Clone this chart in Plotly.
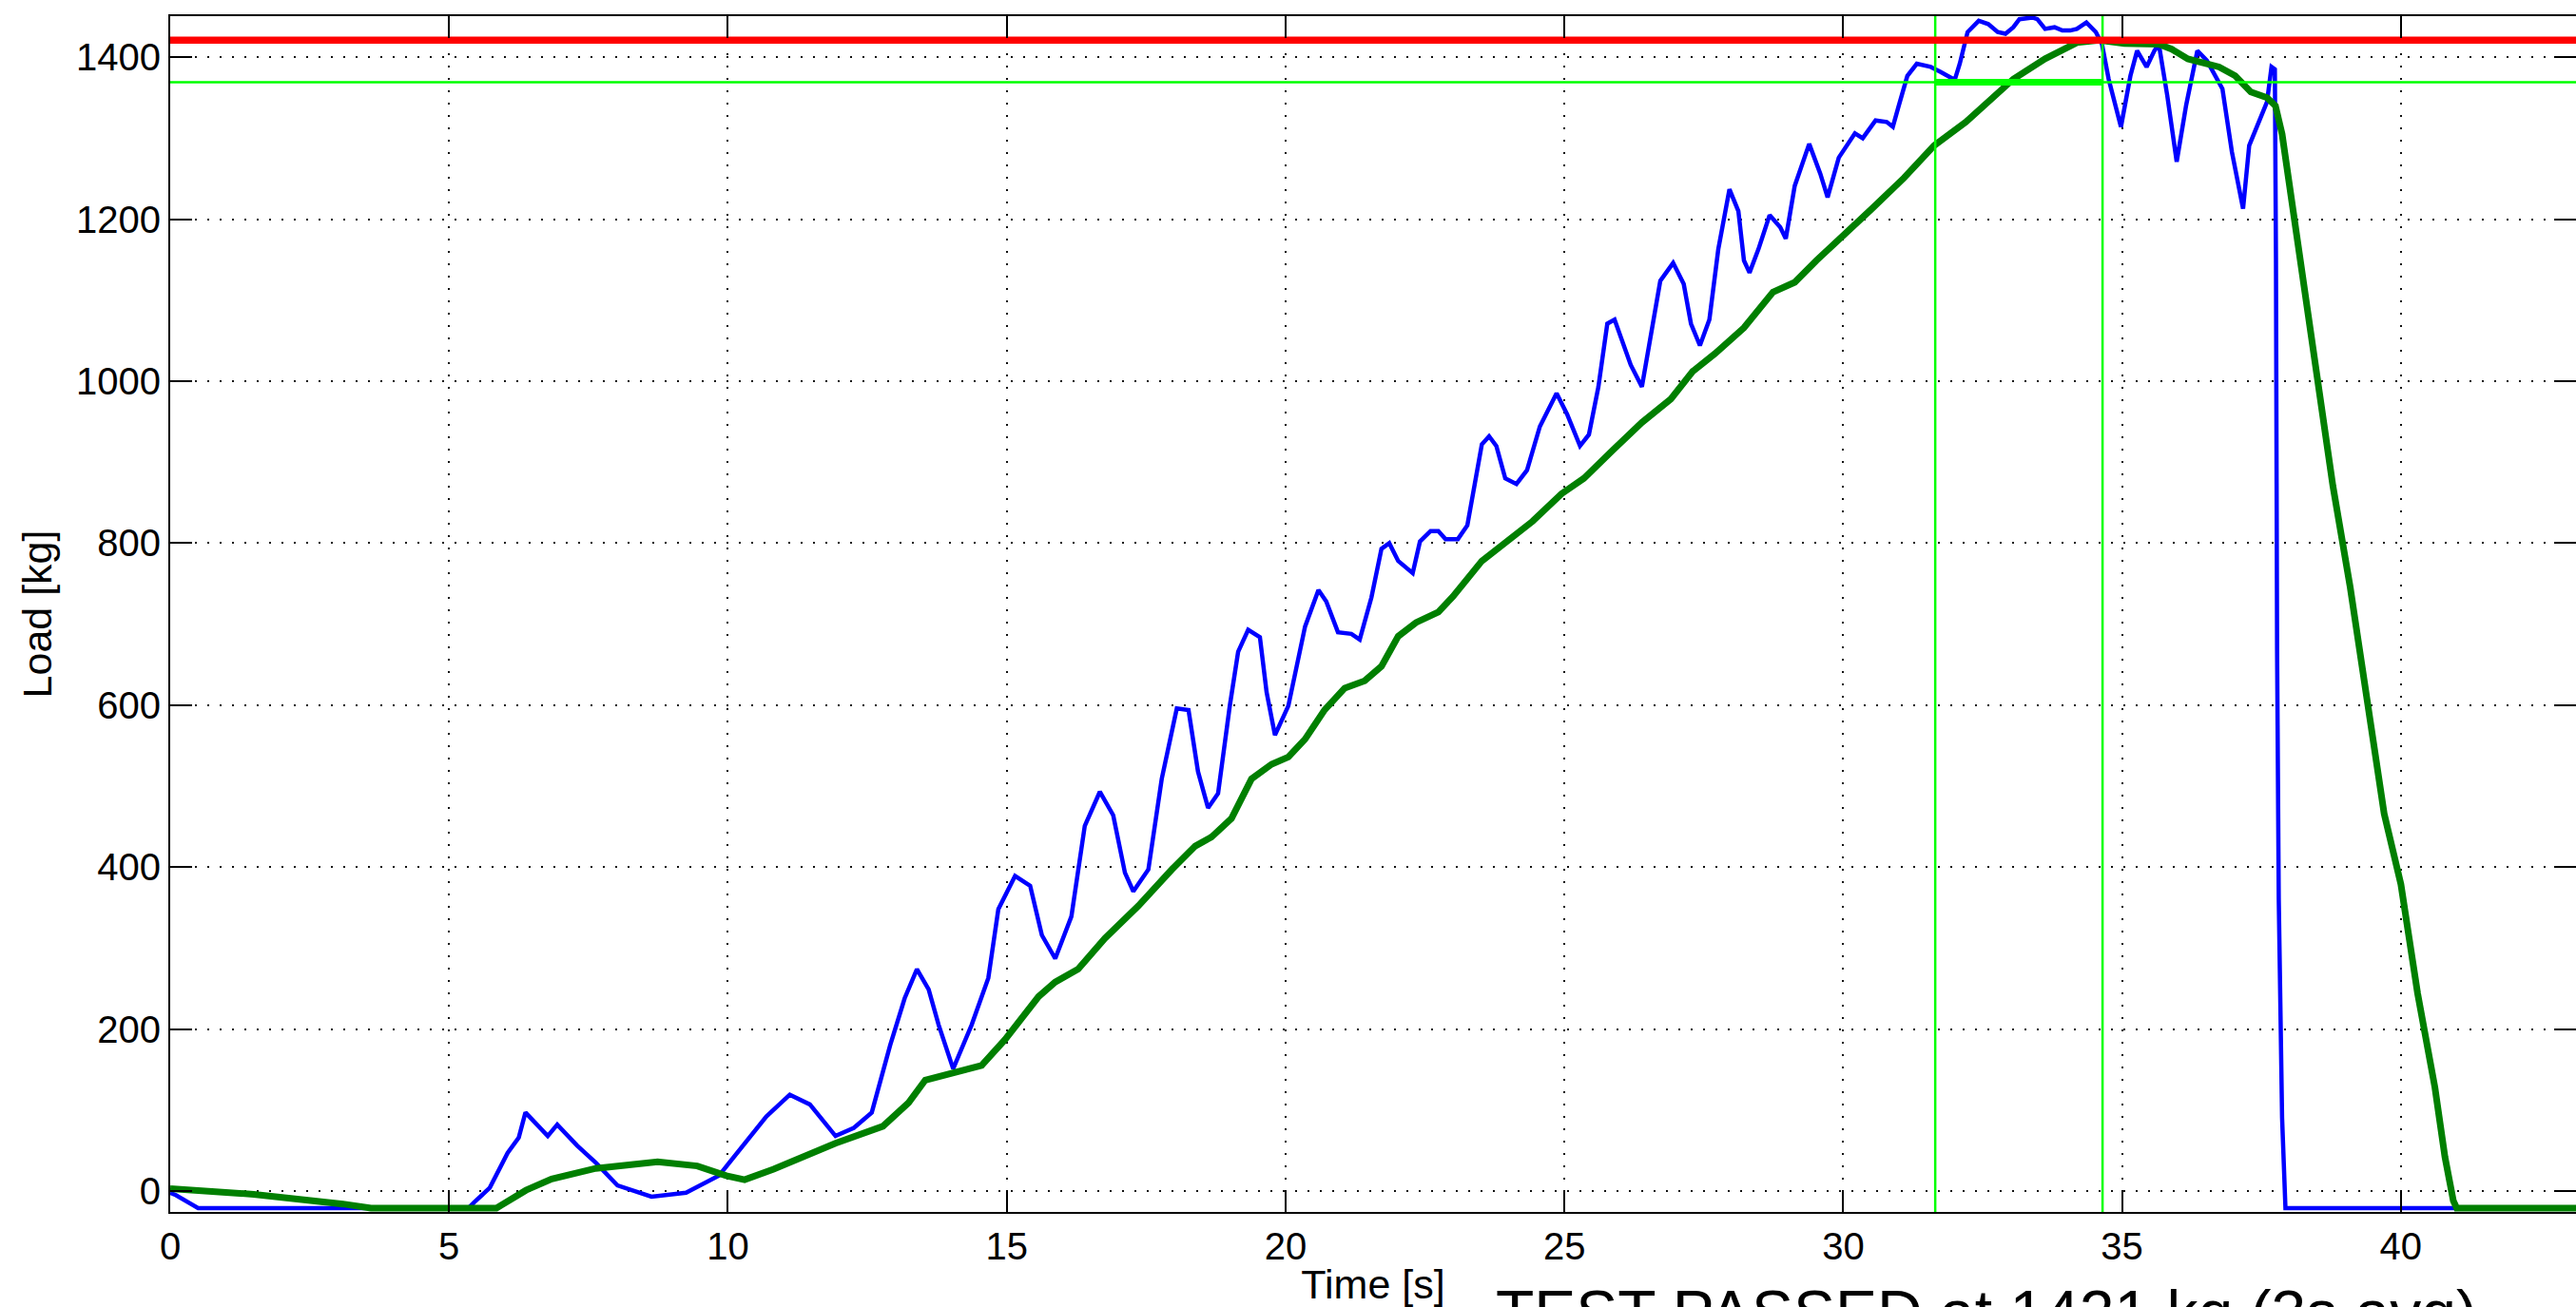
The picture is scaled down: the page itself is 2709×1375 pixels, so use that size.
import plotly.graph_objects as go

# ---- data ----
raw_t = [0.0, 0.1, 0.5, 5.35, 5.45, 5.73, 6.05, 6.25, 6.37, 6.77, 6.94, 7.3, 7.63, 8.02, 8.63, 9.25,
         9.84, 10.36, 10.69, 11.11, 11.47, 11.93, 12.26, 12.58, 12.91, 13.17, 13.39, 13.6, 13.78,
         14.04, 14.37, 14.67, 14.85, 15.15, 15.42, 15.63, 15.87, 16.16, 16.4, 16.67, 16.91, 17.12,
         17.27, 17.54, 17.78, 18.05, 18.26, 18.43, 18.61, 18.79, 19.0, 19.15, 19.33, 19.54, 19.66,
         19.81, 20.05, 20.35, 20.59, 20.73, 20.94, 21.18, 21.33, 21.54, 21.72, 21.86, 22.02, 22.28,
         22.41, 22.6, 22.74, 22.87, 23.09, 23.26, 23.39, 23.52, 23.65, 23.78, 23.94, 24.14, 24.33,
         24.56, 24.86, 25.05, 25.28, 25.44, 25.61, 25.77, 25.9, 26.03, 26.19, 26.39, 26.55, 26.72,
         26.95, 27.14, 27.27, 27.43, 27.6, 27.76, 27.96, 28.12, 28.22, 28.32, 28.48, 28.68, 28.87,
         28.97, 29.13, 29.39, 29.59, 29.72, 29.92, 30.11, 30.21, 30.35, 30.58, 30.78, 30.89, 31.0,
         31.15, 31.32, 31.57, 31.74, 32.0, 32.09, 32.23, 32.43, 32.6, 32.77, 32.91, 33.05, 33.16,
         33.39, 33.48, 33.62, 33.79, 33.93, 34.07, 34.19, 34.36, 34.53, 34.64, 34.76, 34.98, 35.15,
         35.27, 35.44, 35.58, 35.66, 35.81, 35.98, 36.15, 36.35, 36.52, 36.8, 36.97, 37.17, 37.28,
         37.6, 37.68, 37.74, 37.76, 37.78, 37.81, 37.87, 37.93, 43.3]
raw_load = [-2, -5, -21, -21, -14, 4, 47, 66, 97, 68, 82, 56, 35, 7, -7, -2,
            19, 64, 92, 119, 107, 68, 78, 97, 180, 238, 274, 249, 205,
            151, 205, 263, 348, 389, 377, 316, 287, 339, 451, 493, 464, 393,
            370, 397, 509, 596, 594, 518, 473, 491, 599, 666, 693, 684, 616,
            563, 599, 697, 742, 728, 690, 688, 681, 733, 793, 800, 778, 763,
            802, 815, 815, 805, 805, 822, 871, 922, 932, 920, 880, 873, 890,
            944, 985, 959, 920, 934, 993, 1071, 1076, 1051, 1020, 993, 1056, 1124,
            1146, 1120, 1071, 1044, 1076, 1163, 1237, 1210, 1149, 1134, 1163, 1205, 1190,
            1176, 1241, 1293, 1256, 1227, 1276, 1295, 1306, 1300, 1322, 1320, 1314, 1341,
            1377, 1392, 1388, 1382, 1372, 1392, 1431, 1445, 1441, 1431, 1429, 1437, 1447,
            1449, 1447, 1435, 1437, 1433, 1433, 1435, 1443, 1431, 1416, 1373, 1314, 1377,
            1408, 1388, 1408, 1416, 1353, 1271, 1341, 1408, 1396, 1361, 1283, 1213, 1291,
            1345, 1388, 1385, 1150, 669, 360, 90, -21, -21]

avg_t = [0.0, 1.5, 3.1, 3.6, 5.85, 6.38, 6.84, 7.63, 8.74, 9.45, 9.97, 10.3, 10.82, 11.93, 12.78,
         13.24, 13.54, 14.07, 14.55, 14.97, 15.57, 15.87, 16.28, 16.76, 17.36, 17.96, 18.38, 18.67,
         19.03, 19.39, 19.75, 20.05, 20.35, 20.7, 21.06, 21.42, 21.72, 22.02, 22.34, 22.74, 23.0,
         23.52, 23.98, 24.43, 24.95, 25.35, 25.87, 26.39, 26.91, 27.3, 27.7, 28.22, 28.74, 29.13,
         29.52, 29.98, 30.5, 31.09, 31.63, 32.2, 33.05, 33.62, 34.19, 34.59, 35.04, 35.66, 35.89,
         36.18, 36.74, 37.03, 37.31, 37.6, 37.75, 37.87, 38.11, 38.48, 38.78, 39.09, 39.39, 39.7,
         40.0, 40.3, 40.61, 40.79, 40.94, 41.0, 43.3]
avg_load = [3, -4, -16, -21, -21, 1, 15, 28, 36, 31, 19, 14, 27, 59, 80,
            109, 137, 146, 155, 187, 240, 258, 274, 312, 352, 397, 426, 437,
            460, 509, 527, 536, 558, 594, 621, 630, 648, 685, 702, 715, 734,
            778, 802, 827, 861, 880, 915, 949, 978, 1012, 1034, 1066, 1110, 1122,
            1149, 1178, 1212, 1251, 1291, 1320, 1373, 1398, 1418, 1421, 1417, 1416, 1410,
            1398, 1388, 1377, 1357, 1350, 1340, 1305, 1190, 1016, 871, 746, 611, 466,
            379, 244, 128, 42, -12, -21, -21]

pass_load = 1421            # kg, 3 s average result (red line)
window_level = 1369         # kg, green reference level
window_t = [31.65, 34.65]   # s, 3 s averaging window

x_ticks = [0, 5, 10, 15, 20, 25, 30, 35, 40]
y_ticks = [0, 200, 400, 600, 800, 1000, 1200, 1400]
x_range = [0, 43.14]
y_range = [-25.8, 1450.7]

FONT = "Liberation Sans, Arial, sans-serif"

fig = go.Figure()

fig.add_trace(go.Scatter(x=raw_t, y=raw_load, mode="lines",
                         line=dict(color="#0000FF", width=4.5), name="Load"))
fig.add_trace(go.Scatter(x=avg_t, y=avg_load, mode="lines",
                         line=dict(color="#007F00", width=7), name="3s avg"))

# green reference level across the whole plot
fig.add_trace(go.Scatter(x=x_range, y=[window_level, window_level], mode="lines",
                         line=dict(color="#00FF00", width=2.5), hoverinfo="skip"))
# thick green segment across the averaging window
fig.add_trace(go.Scatter(x=window_t, y=[window_level, window_level], mode="lines",
                         line=dict(color="#00FF00", width=7), hoverinfo="skip"))
# window boundaries
for tw in window_t:
    fig.add_trace(go.Scatter(x=[tw, tw], y=y_range, mode="lines",
                             line=dict(color="#00FF00", width=2.5), hoverinfo="skip"))
# pass line
fig.add_trace(go.Scatter(x=x_range, y=[pass_load, pass_load], mode="lines",
                         line=dict(color="#FF0000", width=7.5), hoverinfo="skip"))

axis_common = dict(
    showline=True, linecolor="black", linewidth=2, mirror="ticks",
    ticks="inside", ticklen=23, tickwidth=2, tickcolor="black",
    showgrid=True, gridcolor="#111111", gridwidth=2, griddash="2px,11px",
    zeroline=False,
    tickfont=dict(family=FONT, size=40, color="black"),
)

fig.update_xaxes(range=x_range, tickvals=x_ticks, **axis_common,
                 title=dict(text="Time [s]", font=dict(family=FONT, size=43, color="black"),
                            standoff=6))
fig.update_yaxes(range=y_range, tickvals=y_ticks, **axis_common,
                 title=dict(text="Load [kg]", font=dict(family=FONT, size=43, color="black"),
                            standoff=12))

fig.add_annotation(text="TEST PASSED at 1421 kg (3s avg)", xref="paper", yref="paper",
                   x=(2089 - 179) / 2530, y=(1275 - 1343) / 1258,
                   xanchor="center", yanchor="top", showarrow=False, borderpad=0,
                   font=dict(family=FONT, size=66, color="black"))

fig.update_layout(
    width=2709, height=1375,
    margin=dict(l=179, r=0, t=17, b=100, autoexpand=False),
    plot_bgcolor="white", paper_bgcolor="white",
    showlegend=False,
)

fig.write_html("out.html", config={"displayModeBar": False},
               post_script="document.body.style.margin='0';document.body.style.overflow='hidden';")
